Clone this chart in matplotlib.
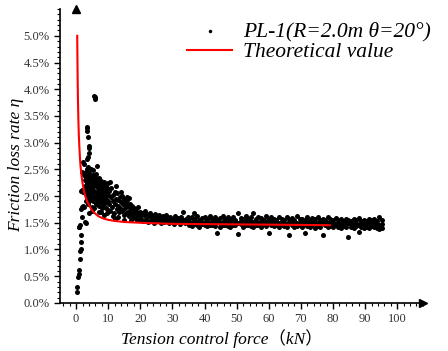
import matplotlib.pyplot as plt
from matplotlib.ticker import MultipleLocator, FuncFormatter

# rising branch at very small force
rise_x = [0.3, 0.3, 0.7, 0.8, 0.9, 1.1, 1.3, 1.5, 1.4, 1.6, 1.0, 1.2, 0.9, 1.8, 1.6, 1.9, 2.2,
          1.5, 1.8, 2.0, 3.1, 2.9, 2.4, 3.1, 3.6]
rise_y = [0.21, 0.30, 0.49, 0.55, 0.62, 0.82, 0.97, 1.01, 1.14, 1.28, 1.42, 1.45, 1.43, 1.60, 1.75,
          1.80, 1.82, 2.10, 2.12, 2.08, 1.50, 1.52, 1.80, 1.90, 1.87]

# isolated high points
peak_x = [5.6, 5.9, 5.8, 3.3, 3.5, 3.4, 3.6, 4.1, 3.9, 4.0, 3.6, 3.3, 2.0, 2.4, 6.6, 3.8, 3.4, 1.7]
peak_y = [3.88, 3.85, 3.82, 3.30, 3.27, 3.22, 3.10, 2.94, 2.90, 2.80, 2.73, 2.70, 2.63, 2.60,
          2.57, 2.55, 2.50, 2.45]

# dense cloud 2.5 - 10 kN
cloud_x = [2.6, 2.8, 2.9, 3.0, 3.1, 3.2, 3.3, 3.4, 3.5, 3.6, 3.7, 3.8, 3.9, 4.0, 4.1, 4.2, 4.3,
           4.4, 4.5, 4.6, 4.7, 4.8, 4.9, 5.0, 5.1, 5.2, 5.3, 5.4, 5.5, 5.6, 5.7, 5.8, 5.9, 6.0,
           6.1, 6.2, 6.3, 6.4, 6.5, 6.6, 6.7, 6.8, 6.9, 7.0, 7.1, 7.2, 7.3, 7.4, 7.5, 7.6, 7.7,
           7.8, 7.9, 8.0, 8.1, 8.2, 8.3, 8.4, 8.5, 8.6, 8.7, 8.8, 8.9, 9.0, 9.1, 9.2, 9.3, 9.4,
           9.5, 9.6, 9.7, 9.8, 9.9, 10.0, 3.2, 4.4, 5.3, 6.2, 7.0, 5.0, 4.0, 7.9, 8.8, 9.5, 4.6,
           3.6, 2.7]
cloud_y = [2.40, 2.30, 2.18, 2.45, 2.05, 2.35, 1.95, 2.25, 2.12, 2.40, 1.85, 2.30, 2.18, 2.02,
           2.44, 1.92, 2.28, 2.10, 2.36, 1.98, 2.22, 1.80, 2.15, 2.32, 2.05, 2.40, 1.90, 2.20,
           2.10, 1.78, 2.28, 2.00, 2.35, 1.95, 2.18, 2.25, 1.85, 2.08, 2.30, 1.98, 2.15, 2.22,
           1.90, 2.05, 2.34, 1.82, 2.12, 2.25, 1.95, 2.02, 2.18, 1.88, 2.28, 1.78, 2.10, 1.98,
           2.20, 1.85, 2.05, 2.15, 1.92, 2.26, 1.80, 2.00, 2.12, 1.88, 2.20, 1.95, 2.08, 1.75,
           2.16, 1.90, 2.02, 2.24, 2.15, 2.38, 2.48, 2.42, 1.70, 1.72, 1.68, 1.70, 1.65, 1.68,
           2.50, 2.00, 2.05]

# 10 - 20 kN
mid_x = [10.2, 10.4, 10.6, 10.8, 11.0, 11.2, 11.4, 11.6, 11.8, 12.0, 12.2, 12.4, 12.6, 12.8,
         13.0, 13.2, 13.4, 13.6, 13.8, 14.0, 14.2, 14.4, 14.6, 14.8, 15.0, 15.2, 15.4, 15.6,
         15.8, 16.0, 16.2, 16.4, 16.6, 16.8, 17.0, 17.2, 17.4, 17.6, 17.8, 18.0, 18.2, 18.4,
         18.6, 18.8, 19.0, 19.2, 19.4, 19.6, 19.8, 20.0, 10.5, 11.5, 12.5, 13.1, 14.0, 15.0,
         15.8, 17.0, 12.0, 16.5]
mid_y = [1.85, 2.10, 1.72, 1.98, 2.15, 1.80, 2.02, 1.90, 1.68, 2.08, 1.85, 1.95, 1.75, 2.05,
         1.82, 1.92, 1.70, 1.98, 1.78, 1.88, 2.00, 1.72, 1.85, 1.65, 1.95, 1.78, 1.88, 1.68,
         1.82, 1.92, 1.70, 1.80, 1.62, 1.86, 1.74, 1.66, 1.82, 1.70, 1.60, 1.78, 1.68, 1.75,
         1.58, 1.72, 1.64, 1.80, 1.66, 1.56, 1.70, 1.62, 2.27, 1.62, 2.18, 1.60, 2.08, 1.55,
         1.98, 1.55, 1.58, 1.96]

# 20 - 35 kN
tail_x = [20.3, 20.6, 20.9, 21.2, 21.5, 21.8, 22.1, 22.4, 22.7, 23.0, 23.3, 23.6, 23.9, 24.2,
          24.5, 24.8, 25.1, 25.4, 25.7, 26.0, 26.3, 26.6, 26.9, 27.2, 27.5, 27.8, 28.1, 28.4,
          28.7, 29.0, 29.3, 29.6, 29.9, 30.2, 30.5, 30.8, 31.1, 31.4, 31.7, 32.0, 32.3, 32.6,
          32.9, 33.2, 33.5, 33.8, 34.1, 34.4, 34.7, 36.8]
tail_y = [1.58, 1.68, 1.54, 1.64, 1.72, 1.57, 1.66, 1.52, 1.62, 1.69, 1.55, 1.63, 1.58, 1.50,
          1.66, 1.56, 1.61, 1.53, 1.64, 1.57, 1.49, 1.60, 1.55, 1.62, 1.52, 1.58, 1.65, 1.54,
          1.59, 1.50, 1.61, 1.56, 1.53, 1.58, 1.48, 1.62, 1.55, 1.51, 1.59, 1.54, 1.47, 1.60,
          1.53, 1.71, 1.56, 1.50, 1.58, 1.54, 1.61, 1.69]

# 35 - 96 kN, three rows of the flat band
flat_x = [35.2, 36.0, 36.8, 37.6, 38.4, 39.2, 40.0, 40.8, 41.6, 42.4, 43.2, 44.0, 44.8, 45.6,
          46.4, 47.2, 48.0, 48.8, 49.6, 50.4, 51.2, 52.0, 52.8, 53.6, 54.4, 55.2, 56.0, 56.8,
          57.6, 58.4, 59.2, 60.0, 60.8, 61.6, 62.4, 63.2, 64.0, 64.8, 65.6, 66.4, 67.2, 68.0,
          68.8, 69.6, 70.4, 71.2, 72.0, 72.8, 73.6, 74.4, 75.2, 76.0, 76.8, 77.6, 78.4, 79.2,
          80.0, 80.8, 81.6, 82.4, 83.2, 84.0, 84.8, 85.6, 86.4, 87.2, 88.0, 88.8, 89.6, 90.4,
          91.2, 92.0, 92.8, 93.6, 94.4, 95.2]
flat_top = [1.58, 1.60, 1.57, 1.62, 1.56, 1.59, 1.61, 1.57, 1.63, 1.58, 1.60, 1.56, 1.59, 1.62,
            1.57, 1.60, 1.58, 1.61, 1.56, 1.69, 1.59, 1.57, 1.62, 1.58, 1.60, 1.69, 1.57, 1.61,
            1.59, 1.56, 1.62, 1.58, 1.60,
            1.57, 1.55, 1.60, 1.58, 1.56, 1.61, 1.57, 1.59, 1.55, 1.62, 1.57, 1.58, 1.56, 1.60,
            1.55, 1.59, 1.57, 1.61, 1.56, 1.58, 1.55, 1.60, 1.57, 1.56, 1.59,
            1.55, 1.57, 1.54, 1.58, 1.56, 1.53, 1.57, 1.55, 1.59, 1.54, 1.56, 1.53, 1.57, 1.55,
            1.58, 1.54, 1.61, 1.56]
flat_mid = [1.52, 1.50, 1.53, 1.51, 1.54, 1.50, 1.52, 1.53, 1.49, 1.52, 1.51, 1.54, 1.50, 1.52,
            1.53, 1.51, 1.49, 1.52, 1.54, 1.50, 1.53, 1.51, 1.52, 1.50, 1.54, 1.51, 1.52, 1.49,
            1.53, 1.51, 1.52, 1.50, 1.53,
            1.50, 1.52, 1.49, 1.51, 1.50, 1.48, 1.52, 1.50, 1.51, 1.49, 1.50, 1.52, 1.48, 1.50,
            1.51, 1.49, 1.52, 1.50, 1.48, 1.51, 1.50, 1.49, 1.51, 1.50, 1.48,
            1.49, 1.47, 1.50, 1.48, 1.49, 1.47, 1.48, 1.50, 1.46, 1.49, 1.48, 1.47, 1.49, 1.48,
            1.50, 1.47, 1.46, 1.48]
flat_low = [1.46, 1.44, 1.47, 1.45, 1.43, 1.47, 1.45, 1.44, 1.45, 1.46, 1.44, 1.30, 1.43, 1.45,
            1.46, 1.44, 1.42, 1.46, 1.45, 1.29, 1.47, 1.43, 1.45, 1.46, 1.44, 1.42, 1.46, 1.45,
            1.43, 1.47, 1.44, 1.31, 1.45,
            1.44, 1.45, 1.43, 1.46, 1.44, 1.42, 1.28, 1.45, 1.43, 1.44, 1.46, 1.42, 1.30, 1.44,
            1.43, 1.45, 1.41, 1.44, 1.43, 1.27, 1.45, 1.42, 1.44, 1.43, 1.45,
            1.43, 1.41, 1.44, 1.42, 1.24, 1.43, 1.41, 1.44, 1.33, 1.42, 1.40, 1.43, 1.41, 1.44,
            1.42, 1.40, 1.38, 1.41]

# theoretical curve
theo_x = [0.35, 0.45, 0.55, 0.7, 0.85, 1.0, 1.2, 1.4, 1.7, 2.0, 2.5, 3.0, 3.6, 4.3, 5.0, 6.0,
          7.0, 8.5, 10, 12, 15, 20, 25, 30, 40, 50, 60, 70, 79]
theo_y = [5.00, 4.40, 3.90, 3.45, 3.15, 2.95, 2.72, 2.55, 2.38, 2.25, 2.08, 1.97, 1.88, 1.80,
          1.73, 1.67, 1.62, 1.58, 1.555, 1.535, 1.515, 1.50, 1.49, 1.48, 1.475, 1.47, 1.465,
          1.46, 1.455]

test_x = rise_x + peak_x + cloud_x + mid_x + tail_x + flat_x * 3
test_y = rise_y + peak_y + cloud_y + mid_y + tail_y + flat_top + flat_mid + flat_low

serif = ['Liberation Serif', 'Noto Sans CJK SC', 'DejaVu Serif']
plt.rcParams['font.family'] = serif

fig = plt.figure(figsize=(4.48, 3.51), dpi=100)
ax = fig.add_axes([0.134, 0.137, 0.81, 0.837])

ax.scatter(test_x, test_y, s=13, c='black', linewidths=0, label='PL-1(R=2.0m θ=20°)', zorder=2)
ax.plot(theo_x, theo_y, color='red', lw=1.5, label='Theoretical value', zorder=3)

ax.set_xlim(-5, 108)
ax.set_ylim(0, 5.5)
ax.set_xticks(range(0, 101, 10))
ax.set_yticks([i * 0.5 for i in range(11)])
ax.xaxis.set_minor_locator(MultipleLocator(2))
ax.yaxis.set_minor_locator(MultipleLocator(0.1))
ax.yaxis.set_major_formatter(FuncFormatter(lambda v, p: '%.1f%%' % v))

for s in ['top', 'right']:
    ax.spines[s].set_visible(False)
for s in ['left', 'bottom']:
    ax.spines[s].set_linewidth(1.2)
ax.tick_params(which='major', direction='out', length=4, width=1, labelsize=9,
               labelcolor='#333333')
ax.tick_params(which='minor', direction='out', length=2, width=0.8)

# arrow heads on the axes
ax.plot(1, 0, '>k', markersize=6, transform=ax.get_yaxis_transform(), clip_on=False)
ax.plot(0, 1, '^k', markersize=6, transform=ax.get_xaxis_transform(), clip_on=False)

ax.set_ylabel('Friction loss rate η', fontsize=12.5, fontstyle='italic')
ax.set_xlabel('Tension control force（kN）', fontsize=12.5, fontstyle='italic')
ax.yaxis.set_label_coords(-0.10, 0.47)
ax.xaxis.set_label_coords(0.446, -0.09)

leg = fig.legend(loc='upper right', bbox_to_anchor=(1.005, 0.995), frameon=False,
                 prop={'family': serif, 'style': 'italic', 'size': 15.5},
                 handlelength=2.1, handletextpad=0.5, labelspacing=0.05, markerscale=0.7)

fig.savefig('out.png', dpi=100)
